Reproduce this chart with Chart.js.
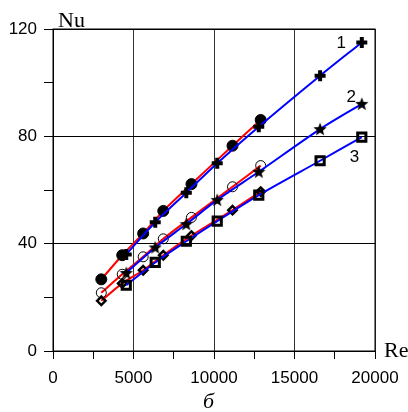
<!DOCTYPE html>
<html>
<head>
<meta charset="utf-8">
<script src="https://cdn.jsdelivr.net/npm/chart.js@4/dist/chart.umd.min.js"></script>
<style>
  html, body { margin: 0; padding: 0; background: #fff; }
  #wrap { position: relative; width: 408px; height: 412px; }
  .lbl { position: absolute; font-family: "Liberation Serif", "Times New Roman", serif; color: #000; }
</style>
</head>
<body>
<div id="wrap">
  <canvas id="nuChart" width="408" height="412"></canvas>
  <div class="lbl" style="left:58px; top:7px; font-size:22px;">Nu</div>
  <div class="lbl" style="left:384px; top:337px; font-size:22px;">Re</div>
  <div class="lbl" style="left:203px; top:388px; font-size:22px; font-style:italic;">б</div>
</div>
<script>
// Re values (x) for the two groups of runs
const reRed  = [3000, 4300, 5600, 6850, 8600, 11150, 12900];
const reBlue = [4550, 6350, 8280, 10200, 12780, 16590, 19180];

// Nu values
const nuFilledCircle = [26.7, 35.7, 43.8, 52.2, 62.2, 76.5, 86.1];
const nuOpenCircle   = [21.7, 28.6, 35.1, 41.8, 49.8, 61.2, 69.1];
const nuDiamond      = [18.7, 25.2, 30.1, 35.7, 43.0, 52.5, 59.4];
const nuPlus         = [36.0, 48.0, 59.0, 70.0, 83.6, 102.6, 115.0];
const nuStar         = [29.1, 38.6, 47.3, 56.3, 66.8, 82.7, 92.1];
const nuSquare       = [24.5, 33.0, 40.9, 48.4, 58.1, 70.9, 79.7];

const xTicks = [0, 5000, 10000, 15000, 20000];
const yTicks = [0, 40, 80, 120];

// curve number labels: [text, Re, Nu]
const curveLabels = [['1', 17900, 114.7], ['2', 18520, 94.5], ['3', 18730, 72.0]];

function pts(xs, ys) { return xs.map((x, i) => ({ x: x, y: ys[i] })); }

function makeStar() {
    const c = document.createElement('canvas');
    c.width = 16; c.height = 16;
    const g = c.getContext('2d');
    g.fillStyle = '#000';
    g.beginPath();
    for (let i = 0; i < 10; i++) {
        const r = i % 2 === 0 ? 7 : 3;
        const a = -Math.PI / 2 + i * Math.PI / 5;
        const px = 8 + r * Math.cos(a), py = 8.5 + r * Math.sin(a);
        if (i === 0) g.moveTo(px, py); else g.lineTo(px, py);
    }
    g.closePath();
    g.fill();
    return c;
}

function series(xs, ys, lineColor, style, opts) {
    return Object.assign({
        data: pts(xs, ys),
        showLine: true,
        borderColor: lineColor,
        borderWidth: 2,
        tension: 0.3,
        pointStyle: style,
        pointBorderColor: '#000',
        pointBackgroundColor: 'rgba(0,0,0,0)'
    }, opts);
}

const labelPlugin = {
    id: 'curveLabels',
    afterDatasetsDraw(chart) {
        const ctx = chart.ctx, xs = chart.scales.x, ys = chart.scales.y;
        ctx.save();
        ctx.font = '17px "Liberation Sans", Arial, sans-serif';
        ctx.fillStyle = '#000';
        ctx.textAlign = 'center';
        ctx.textBaseline = 'middle';
        curveLabels.forEach(l => ctx.fillText(l[0], xs.getPixelForValue(l[1]), ys.getPixelForValue(l[2])));
        ctx.restore();
    }
};

new Chart(document.getElementById('nuChart'), {
    type: 'scatter',
    data: {
        datasets: [
            series(reBlue, nuPlus, '#0000ff', 'cross', { pointRadius: 5.5, pointBorderWidth: 4 }),
            series(reBlue, nuStar, '#0000ff', makeStar(), { pointRadius: 7 }),
            series(reBlue, nuSquare, '#0000ff', 'rect', { pointRadius: 5.8, pointBorderWidth: 3 }),
            series(reRed, nuFilledCircle, '#ff0000', 'circle', { pointRadius: 5.5, pointBorderWidth: 1, pointBackgroundColor: '#000' }),
            series(reRed, nuOpenCircle, '#ff0000', 'circle', { pointRadius: 5, pointBorderWidth: 1 }),
            series(reRed, nuDiamond, '#ff0000', 'rectRot', { pointRadius: 4.2, pointBorderWidth: 2.5 })
        ]
    },
    options: {
        responsive: false,
        animation: false,
        events: [],
        layout: { padding: { left: 0, top: 29, right: 33, bottom: 0 } },
        plugins: { legend: { display: false }, tooltip: { enabled: false } },
        scales: {
            x: {
                type: 'linear', min: 0, max: 20000,
                afterFit: s => { s.height = 61; },
                afterBuildTicks: s => { s.ticks = [0, 2500, 5000, 7500, 10000, 12500, 15000, 17500, 20000].map(v => ({ value: v })); },
                ticks: {
                    padding: 9,
                    color: '#000',
                    maxRotation: 0,
                    autoSkip: false,
                    font: { family: '"Liberation Sans", Arial, sans-serif', size: 17 },
                    callback: v => xTicks.includes(v) ? String(v) : ''
                },
                grid: {
                    color: c => (c.tick && c.tick.value % 5000 === 0) ? '#333' : 'rgba(0,0,0,0)',
                    tickColor: '#000',
                    tickLength: 8,
                    lineWidth: 1
                },
                border: { color: '#000', width: 1 }
            },
            y: {
                type: 'linear', min: 0, max: 120,
                afterFit: s => { s.width = 53; },
                afterBuildTicks: s => { s.ticks = [0, 20, 40, 60, 80, 100, 120].map(v => ({ value: v })); },
                ticks: {
                    padding: 7,
                    color: '#000',
                    autoSkip: false,
                    font: { family: '"Liberation Sans", Arial, sans-serif', size: 17 },
                    callback: v => yTicks.includes(v) ? String(v) : ''
                },
                grid: {
                    color: c => (c.tick && c.tick.value % 40 === 0) ? '#000' : 'rgba(0,0,0,0)',
                    tickColor: '#000',
                    tickLength: 9,
                    lineWidth: 1
                },
                border: { color: '#000', width: 1 }
            }
        }
    },
    plugins: [labelPlugin, {
        id: 'frame',
        beforeDatasetsDraw(chart) {
            const a = chart.chartArea, ctx = chart.ctx;
            ctx.save();
            ctx.strokeStyle = '#000';
            ctx.lineWidth = 1;
            ctx.strokeRect(a.left, a.top, a.right - a.left, a.bottom - a.top);
            ctx.restore();
        }
    }]
});
</script>
</body>
</html>
